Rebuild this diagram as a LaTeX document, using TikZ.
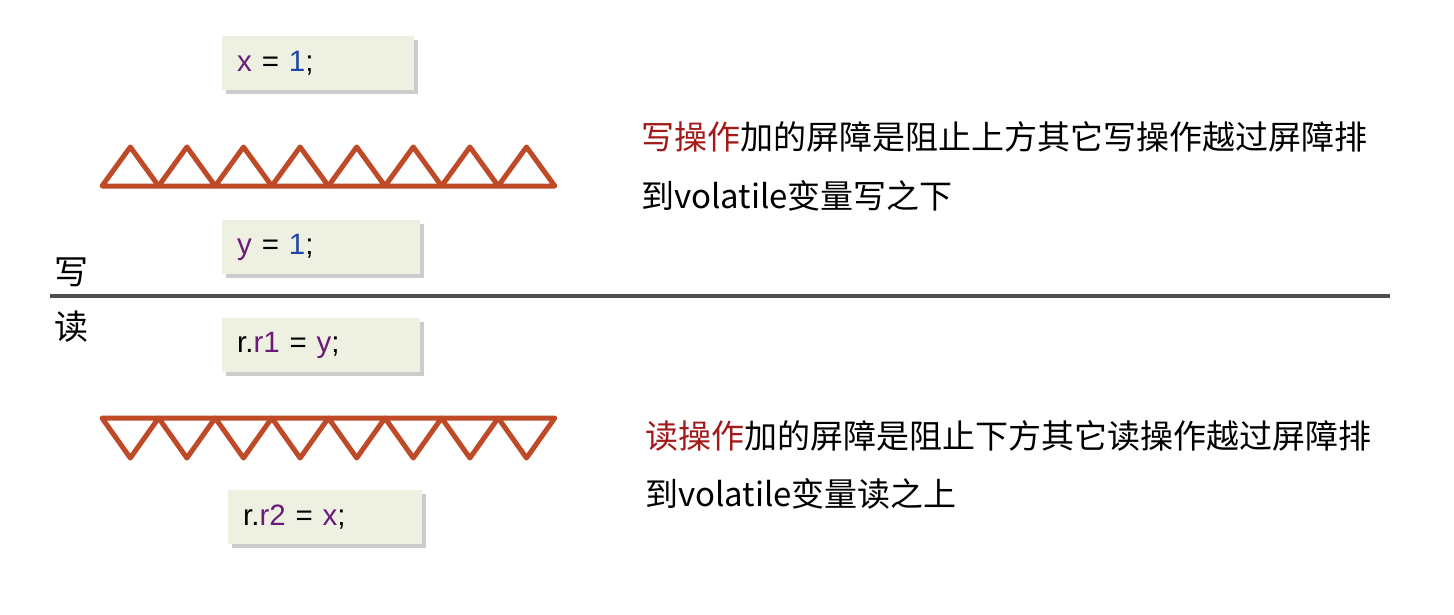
\documentclass[tikz,border=0pt]{standalone}
\usepackage{fontspec}
\usetikzlibrary{shadows}
\newfontfamily\cjk{Noto Sans CJK SC}
\newfontfamily\codef{Liberation Sans}
\definecolor{boxfill}{HTML}{EEF1E2}
\definecolor{tri}{HTML}{BF4A28}
\definecolor{vpurple}{HTML}{6B1A78}
\definecolor{vblue}{HTML}{1F45A8}
\definecolor{hred}{HTML}{A31A1A}
\definecolor{rule}{HTML}{505050}
\tikzset{
  codebox/.style={fill=boxfill, draw=none, anchor=north west, minimum height=54pt,
    inner xsep=15pt, inner ysep=0pt, text width=#1, align=left,
    font=\codef\fontsize{29.5}{29.5}\selectfont,
    drop shadow={shadow xshift=4pt, shadow yshift=-4pt, opacity=0.4, fill=gray}},
  desc/.style={anchor=west, inner sep=0pt, font=\cjk\fontsize{33}{33}\selectfont},
  sidelabel/.style={anchor=center, inner sep=0pt, font=\cjk\fontsize{34}{34}\selectfont},
  barrier/.style={draw=tri, line width=5pt, line join=round, line cap=round}
}
\begin{document}
\begin{tikzpicture}[x=1pt,y=-1pt]
\useasboundingbox[fill=white] (0,0) rectangle (1454,615);
% code boxes
\node[codebox=162pt] (bx) at (222,36) {\textcolor{vpurple}{x} = \textcolor{vblue}{1};};
\node[codebox=168pt] (by) at (222,220) {\textcolor{vpurple}{y} = \textcolor{vblue}{1};};
\node[codebox=168pt] (br1) at (222,318) {r.\textcolor{vpurple}{r1} = \textcolor{vpurple}{y};};
\node[codebox=164pt] (br2) at (228,490) {r.\textcolor{vpurple}{r2} = \textcolor{vpurple}{x};};
% write barrier (triangles up)
\foreach \i in {0,...,7}{
  \pgfmathsetmacro{\xa}{102+\i*56.6}
  \draw[barrier] (\xa,186) -- ({\xa+28.3},147) -- ({\xa+56.6},186) -- cycle;
}
% read barrier (triangles down)
\foreach \i in {0,...,7}{
  \pgfmathsetmacro{\xa}{102+\i*56.6}
  \draw[barrier] (\xa,418) -- ({\xa+28.3},458) -- ({\xa+56.6},418) -- cycle;
}
% separator
\coordinate (sl) at (50,296);
\coordinate (sr) at (1390,296);
\draw[rule, line width=4pt] (sl) -- (sr);
\node[sidelabel] (w) at (71,272) {写};
\node[sidelabel] (r) at (71,327) {读};
% descriptions
\node[desc] (d1) at (641,137) {\textcolor{hred}{写操作}加的屏障是阻止上方其它写操作越过屏障排};
\node[desc] (d2) at (641,196) {到volatile变量写之下};
\node[desc] (d3) at (645,436) {\textcolor{hred}{读操作}加的屏障是阻止下方其它读操作越过屏障排};
\node[desc] (d4) at (645,494) {到volatile变量读之上};
\end{tikzpicture}
\end{document}
